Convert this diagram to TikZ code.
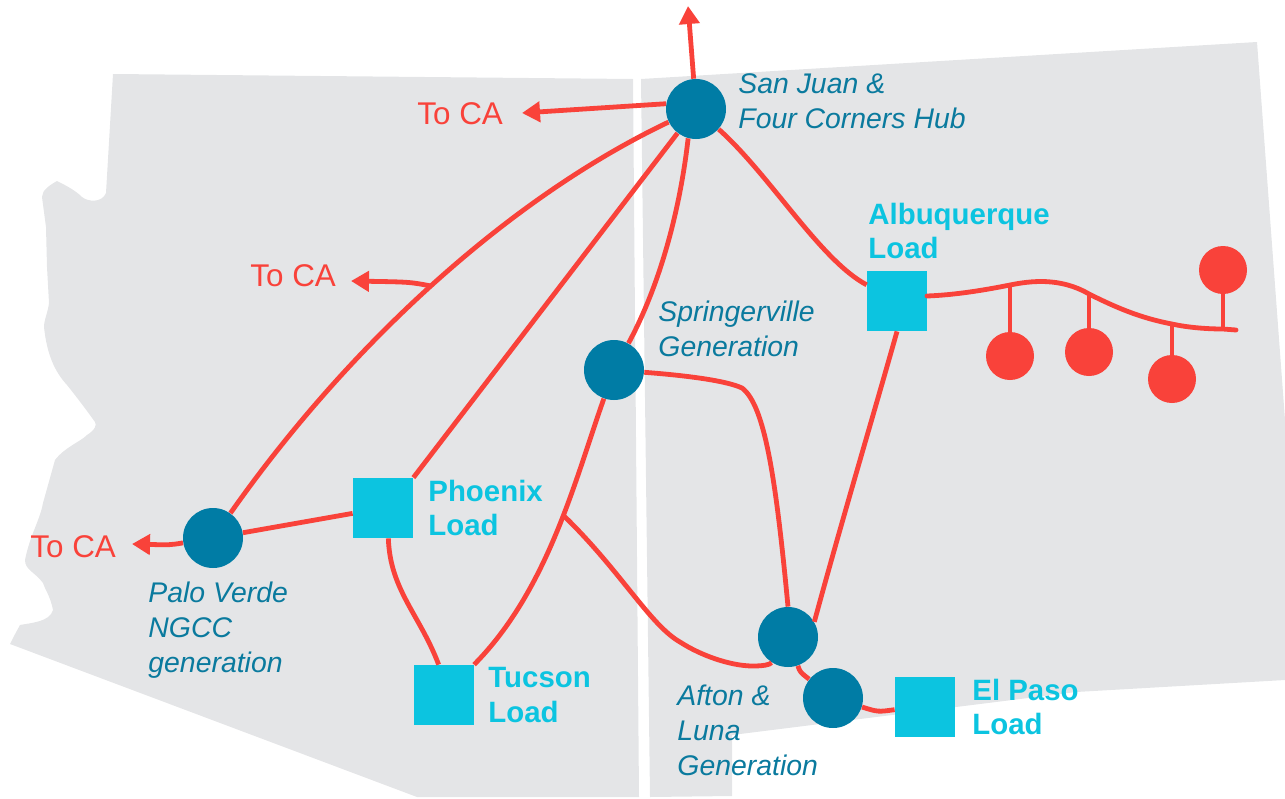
\documentclass[tikz,border=0pt]{standalone}
\usepackage{fontspec}
\setmainfont{Liberation Sans}
\usetikzlibrary{arrows.meta}
\definecolor{mapgray}{HTML}{E4E5E7}
\definecolor{linered}{HTML}{F9423A}
\definecolor{gendark}{HTML}{007CA5}
\definecolor{gentext}{HTML}{0A7A9E}
\definecolor{loadcyan}{HTML}{0CC4E0}
\tikzset{
  gen/.style={circle, fill=gendark, minimum size=30pt, inner sep=0pt},
  load/.style={rectangle, fill=loadcyan, minimum size=30pt, inner sep=0pt},
  wind/.style={circle, fill=linered, minimum size=24pt, inner sep=0pt},
  line/.style={draw=linered, line width=2.4pt},
  export/.style={line, -{Triangle[length=9pt,width=10pt]}},
  toca/.style={anchor=west, inner sep=0pt, text=linered, font=\fontsize{15.7}{18}\selectfont},
  genlabel/.style={anchor=west, inner sep=0pt, align=left, text=gentext, font=\fontsize{14.2}{17.5}\selectfont\itshape},
  loadlabel/.style={anchor=west, inner sep=0pt, align=left, text=loadcyan, font=\fontsize{14.7}{17.2}\selectfont\bfseries}
}
\begin{document}
\begin{tikzpicture}[x=0.5pt, y=-0.5pt]
  \useasboundingbox (0,0) rectangle (1285,798);

  %% states
  \fill[mapgray] (113,74) -- (633,79) -- (639,797) -- (417,797) -- (10,644)
    .. controls (14,636) .. (20,625) .. controls (30,623) and (50,622) .. (53,610)
    .. controls (50,595) and (45,590) .. (43,583) .. controls (35,572) and (25,570) .. (25,560)
    .. controls (30,535) and (40,520) .. (43,503) -- (55,460)
    .. controls (65,447) and (80,442) .. (87,435) .. controls (95,430) and (97,425) .. (95,422)
    .. controls (85,408) and (75,395) .. (67,385) .. controls (55,372) and (47,355) .. (44,327)
    .. controls (44,320) and (48,312) .. (49,303) -- (47,267) -- (46,227) -- (42,197)
    .. controls (42,190) and (50,185) .. (57,181) .. controls (65,185) and (75,190) .. (82,197)
    .. controls (88,202) and (102,203) .. (106,193) -- cycle;
  \fill[mapgray] (641,79) -- (1257,42) -- (1285,420) -- (1285,680) -- (1076,692)
    -- (732,735) -- (732,796) -- (650,797) -- cycle;

  %% generation and load
  \node[gen] (hub) at (696,109) {};
  \node[gen] (spring) at (614,370) {};
  \node[gen] (paloverde) at (213,538) {};
  \node[gen] (afton) at (788,637) {};
  \node[gen] (luna) at (833,698) {};
  \node[load] (phoenix) at (383,508) {};
  \node[load] (tucson) at (444,695) {};
  \node[load] (elpaso) at (925,707) {};
  \node[load] (albq) at (897,301) {};

  %% wind
  \node[wind] (windA) at (1010,356) {};
  \node[wind] (windB) at (1089,352) {};
  \node[wind] (windC) at (1172,379) {};
  \node[wind] (windD) at (1223,270) {};

  %% free ends and junctions
  \coordinate (north) at (688,6);
  \coordinate (caA) at (522,113);
  \coordinate (caB) at (351,281);
  \coordinate (caC) at (132,544);
  \coordinate (junA) at (431,286);
  \coordinate (junB) at (563,515);
  \coordinate (busstart) at (927,296);
  \coordinate (tapA) at (1010,285);
  \coordinate (tapB) at (1089,294);
  \coordinate (tapC) at (1172,324);
  \coordinate (tapD) at (1223,329);
  \coordinate (busend) at (1236,330);

  %% lines
  \draw[line] (hub) .. controls (505,200) and (345,350) .. (paloverde);
  \draw[line] (hub) -- (phoenix.north east);
  \draw[line] (hub.-105) .. controls (680,210) and (660,285) .. (spring);
  \draw[line] (hub) .. controls (770,175) and (820,260) .. (albq);
  \draw[line] (spring) .. controls (680,375) and (725,380) .. (742,388)
    .. controls (765,405) and (776,480) .. (afton.north);
  \draw[line] (spring) .. controls (575,480) and (548,590) .. (tucson);
  \draw[line] (junB) .. controls (620,570) and (650,625) .. (680,642)
    .. controls (700,655) and (730,666) .. (753,666)
    .. controls (762,666) and (770,665) .. (afton);
  \draw[line] (albq.south) .. controls (872,420) and (842,520) .. (afton.30);
  \draw[line] (afton) .. controls (800,672) .. (luna);
  \draw[line] (luna) .. controls (878,712) .. (elpaso.185);
  \draw[line] (paloverde) -- (phoenix);
  \draw[line] (phoenix.-80) .. controls (390,590) and (420,615) .. (tucson.100);

  %% bus
  \draw[line, line cap=round] (busstart) .. controls (955,295) and (985,290) .. (tapA)
    .. controls (1030,281) and (1060,277) .. (tapB)
    .. controls (1115,307) and (1140,318) .. (tapC)
    .. controls (1190,328) and (1210,329) .. (tapD) -- (busend);
  \draw[line] (windA) -- (tapA);
  \draw[line] (windB) -- (tapB);
  \draw[line] (windC) -- (tapC);
  \draw[line] (windD) -- (tapD);

  %% arrows
  \draw[export] (hub) -- (north);
  \draw[export] (hub.170) -- (caA);
  \draw[export] (junA) .. controls (410,282) .. (caB);
  \draw[export] (paloverde) .. controls (170,545) .. (caC);

  %% labels
  \node[toca] (caAlabel) at (417,114) {To CA};
  \node[toca] (caBlabel) at (250,276) {To CA};
  \node[toca] (caClabel) at (30,547) {To CA};
  \node[genlabel] (hublabel) at (738,101) {San Juan \&\\Four Corners Hub};
  \node[genlabel] (springlabel) at (658,329) {Springerville\\Generation};
  \node[genlabel] (palolabel) at (148,630) {Palo Verde\\NGCC\\generation};
  \node[genlabel] (aftonlabel) at (677,730) {Afton \&\\Luna\\Generation};
  \node[loadlabel] (albqlabel) at (868,231) {Albuquerque\\Load};
  \node[loadlabel] (phoenixlabel) at (428,508) {Phoenix\\Load};
  \node[loadlabel] (tucsonlabel) at (488,695) {Tucson\\Load};
  \node[loadlabel] (elpasolabel) at (972,707) {El Paso\\Load};

\end{tikzpicture}
\end{document}
